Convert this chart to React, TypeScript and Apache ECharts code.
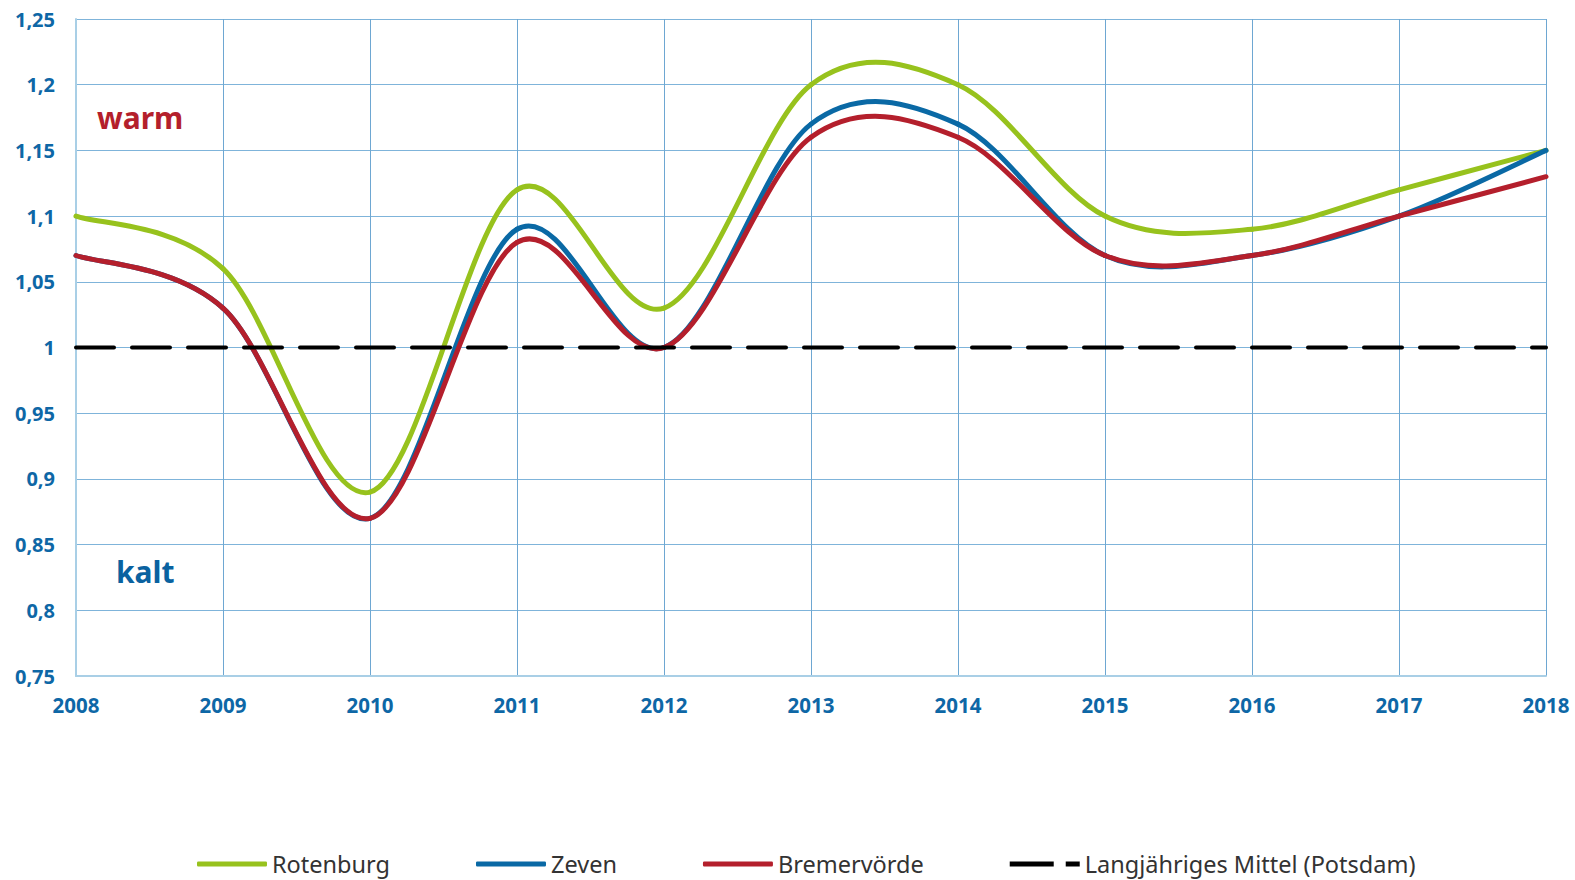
import React, { useEffect, useRef } from "react";
import * as echarts from "echarts";

const years = [2008, 2009, 2010, 2011, 2012, 2013, 2014, 2015, 2016, 2017, 2018];
const rotenburg = [1.1, 1.06, 0.89, 1.12, 1.03, 1.2, 1.2, 1.1, 1.09, 1.12, 1.15];
const zeven = [1.07, 1.03, 0.87, 1.09, 1.0, 1.17, 1.17, 1.07, 1.07, 1.1, 1.15];
const bremervoerde = [1.07, 1.03, 0.87, 1.08, 1.0, 1.16, 1.16, 1.07, 1.07, 1.1, 1.13];
const mittel = [1, 1, 1, 1, 1, 1, 1, 1, 1, 1, 1];
const seriesNames = ["Rotenburg", "Zeven", "Bremervörde", "Langjähriges Mittel (Potsdam)"];
const colors = ["#97c21d", "#0a69a5", "#b41f2c", "#000000"];

const pair = (vals: number[]) => years.map((y, i) => [y, vals[i]]);

export default function App() {
  const ref = useRef<HTMLDivElement>(null);
  useEffect(() => {
    if (!ref.current) return;
    const chart = echarts.init(ref.current, null, { renderer: "svg" });
    const font = "Noto Sans";
    const axisBlue = "#0e67a6";

    const smoothSeries = (name: string, vals: number[], color: string, z: number) => ({
      name,
      type: "custom",
      data: pair(vals),
      encode: { x: 0, y: 1 },
      itemStyle: { color },
      z,
      renderItem: (params: any, api: any) => {
        if (params.dataIndex !== 0) return null;
        const p = years.map((y, i) => api.coord([y, vals[i]]));
        const n = p.length;
        const children: any[] = [];
        for (let i = 0; i < n - 1; i++) {
          const p0 = p[Math.max(i - 1, 0)];
          const p1 = p[i];
          const p2 = p[i + 1];
          const p3 = p[Math.min(i + 2, n - 1)];
          children.push({
            type: "bezierCurve",
            shape: {
              x1: p1[0],
              y1: p1[1],
              cpx1: p1[0] + (p2[0] - p0[0]) / 6,
              cpy1: p1[1] + (p2[1] - p0[1]) / 6,
              cpx2: p2[0] - (p3[0] - p1[0]) / 6,
              cpy2: p2[1] - (p3[1] - p1[1]) / 6,
              x2: p2[0],
              y2: p2[1],
            },
            style: { stroke: color, lineWidth: 5, fill: "none", lineCap: "round" },
          });
        }
        return { type: "group", children };
      },
    });

    chart.setOption({
      animation: false,
      backgroundColor: "#ffffff",
      textStyle: { fontFamily: font },
      grid: { left: 76, right: 29, top: 19, bottom: 204, containLabel: false },
      legend: {
        data: [
          { name: seriesNames[0], icon: "roundRect", itemStyle: { color: colors[0] } },
          { name: seriesNames[1], icon: "roundRect", itemStyle: { color: colors[1] } },
          { name: seriesNames[2], icon: "roundRect", itemStyle: { color: colors[2] } },
          {
            name: seriesNames[3],
            icon: "path://M0,0h44v5h-44z M56,0h14v5h-14z",
            itemStyle: { color: colors[3] },
          },
        ],
        left: 197,
        top: 852,
        padding: 0,
        itemWidth: 70,
        itemHeight: 5,
        itemGap: 86,
        textStyle: { fontSize: 23.5, color: "#333333", fontFamily: font },
      },
      xAxis: {
        type: "value",
        min: 2008,
        max: 2018,
        interval: 1,
        axisLine: { show: true, lineStyle: { color: "#a9cfe6", width: 2 } },
        axisTick: { show: false },
        splitLine: { show: true, lineStyle: { color: "#6ea7d2", width: 1 } },
        axisLabel: {
          color: axisBlue,
          fontWeight: "bold",
          fontSize: 20.5,
          margin: 18,
          fontFamily: font,
          formatter: (v: number) => String(v),
        },
      },
      yAxis: {
        type: "value",
        min: 0.75,
        max: 1.25,
        interval: 0.05,
        axisLine: { show: true, lineStyle: { color: "#a9cfe6", width: 2 } },
        axisTick: { show: false },
        splitLine: { show: true, lineStyle: { color: "#7fb4da", width: 1 } },
        axisLabel: {
          color: axisBlue,
          fontWeight: "bold",
          fontSize: 20,
          margin: 21,
          fontFamily: font,
          formatter: (v: number) => String(Math.round(v * 100) / 100).replace(".", ","),
        },
      },
      graphic: [
        {
          type: "text",
          left: 97,
          top: 102,
          style: { text: "warm", fill: "#b41f2c", font: `bold 30px "${font}"` },
        },
        {
          type: "text",
          left: 116,
          top: 556,
          style: { text: "kalt", fill: "#0a62a0", font: `bold 30px "${font}"` },
        },
      ],
      series: [
        smoothSeries(seriesNames[0], rotenburg, colors[0], 2),
        smoothSeries(seriesNames[1], zeven, colors[1], 3),
        smoothSeries(seriesNames[2], bremervoerde, colors[2], 4),
        {
          name: seriesNames[3],
          type: "line",
          data: pair(mittel),
          symbol: "none",
          lineStyle: { color: colors[3], width: 4, type: [38, 18], cap: "round" },
          itemStyle: { color: colors[3] },
          z: 5,
        },
      ],
    });
    return () => chart.dispose();
  }, []);
  return <div ref={ref} style={{ width: 1575, height: 880, position: "absolute", left: 0, top: 0 }} />;
}
